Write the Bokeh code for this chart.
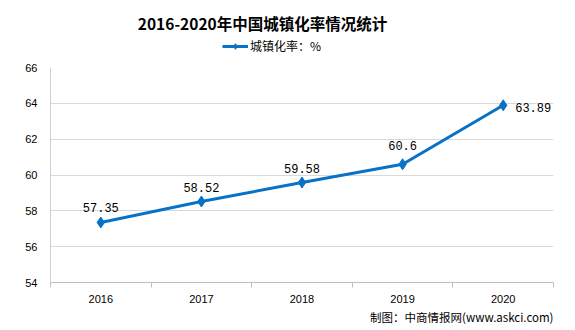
from bokeh.plotting import figure
from bokeh.layouts import column
from bokeh.models import (Range1d, FixedTicker, Title, Legend, LegendItem, ColumnDataSource,
                          LabelSet, Label)
from bokeh.core.properties import value
from bokeh.embed import file_html
from bokeh.resources import INLINE

years = ["2016", "2017", "2018", "2019", "2020"]
rates = [57.35, 58.52, 59.58, 60.6, 63.89]
rate_labels = ["57.35", "58.52", "59.58", "60.6", "63.89"]
y_ticks = [54, 56, 58, 60, 62, 64, 66]
title_text = "2016-2020年中国城镇化率情况统计"
series_name = "城镇化率：%"
source_text = "制图：中商情报网(www.askci.com)"

blue = "#0872C6"

W, HH = 575, 60
BL, BR = 50, 22
FW = W - BL - BR

# ---- header (title + legend) ----
h = figure(width=W, height=HH, output_backend="svg", toolbar_location=None,
           x_range=Range1d(0, FW), y_range=Range1d(0, HH),
           min_border_left=BL, min_border_right=BR, min_border_top=0, min_border_bottom=0,
           outline_line_color=None, background_fill_color="white",
           border_fill_color="white")
h.axis.visible = False
h.grid.visible = False
h.add_layout(Label(x=262 - BL, y=HH - 22, text=title_text, text_align="center",
                   text_baseline="middle", text_font="Noto Sans CJK SC",
                   text_font_size="15.5px", text_font_style="bold", text_color="#000000"))
# legend-only renderers, kept off the visible range of the header
ghost = ColumnDataSource(dict(x=[-1000], y=[-1000]))
d_line = h.line("x", "y", source=ghost, line_color=blue, line_width=3)
d_pts = h.scatter("x", "y", source=ghost, marker="diamond", size=9, fill_color=blue, line_color=blue)
legend = Legend(items=[LegendItem(label=series_name, renderers=[d_line, d_pts])],
                orientation="horizontal", location=(222 - BL, 6), border_line_color=None,
                background_fill_alpha=0, label_text_font="Noto Sans CJK SC",
                label_text_font_size="12px", label_text_color="#000000",
                glyph_width=26, glyph_height=14, padding=0, margin=0, label_standoff=2)
h.add_layout(legend)

# ---- main chart ----
xs = [i + 0.5 for i in range(len(years))]
label_dx = [0, 0, 0, 0, 30]
label_dy = [10, 10, 10, 14, -7]
src = ColumnDataSource(dict(x=xs, y=rates, t=rate_labels, dx=label_dx, dy=label_dy))

p = figure(width=W, height=330 - HH, output_backend="svg", toolbar_location=None,
           x_range=Range1d(0, len(years)), y_range=Range1d(54, 66),
           min_border_left=BL, min_border_right=BR, min_border_top=7, min_border_bottom=48,
           background_fill_color="white", border_fill_color="white", outline_line_color=None)

p.line("x", "y", source=src, line_color=blue, line_width=3)
p.scatter("x", "y", source=src, marker="diamond", size=11, fill_color=blue, line_color=blue)

labels = LabelSet(x="x", y="y", text="t", source=src, x_offset="dx", y_offset="dy",
                  text_align="center", text_baseline="bottom",
                  text_font=value("Liberation Mono"),
                  text_font_size="12px", text_color="#000000")
p.add_layout(labels)

# x axis
p.xaxis.ticker = FixedTicker(ticks=xs, minor_ticks=list(range(len(years) + 1)))
p.xaxis.major_label_overrides = {x: y for x, y in zip(xs, years)}
p.xaxis.major_tick_line_color = None
p.xaxis.minor_tick_line_color = "#bfbfbf"
p.xaxis.minor_tick_out = 5
p.xaxis.minor_tick_in = 0
p.xaxis.axis_line_color = "#bfbfbf"
p.xaxis.major_label_text_font = "Liberation Sans"
p.xaxis.major_label_text_font_size = "11px"
p.xaxis.major_label_text_color = "#000000"
p.xaxis.major_label_standoff = 6
p.xgrid.grid_line_color = None

# y axis
p.yaxis.ticker = FixedTicker(ticks=y_ticks)
p.yaxis.major_tick_line_color = None
p.yaxis.minor_tick_line_color = None
p.yaxis.axis_line_color = "#d0d0d0"
p.yaxis.major_label_text_font = "Liberation Sans"
p.yaxis.major_label_text_font_size = "11px"
p.yaxis.major_label_text_color = "#000000"
p.yaxis.major_label_standoff = 7
p.ygrid.grid_line_color = "#d9d9d9"

p.add_layout(Title(text=source_text, align="right",
                   text_font="Noto Sans CJK SC", text_font_size="11.5px",
                   text_font_style="normal", text_color="#000000", standoff=2), "below")

layout = column(h, p, spacing=0)
open("out.html", "w").write(file_html(layout, INLINE))
